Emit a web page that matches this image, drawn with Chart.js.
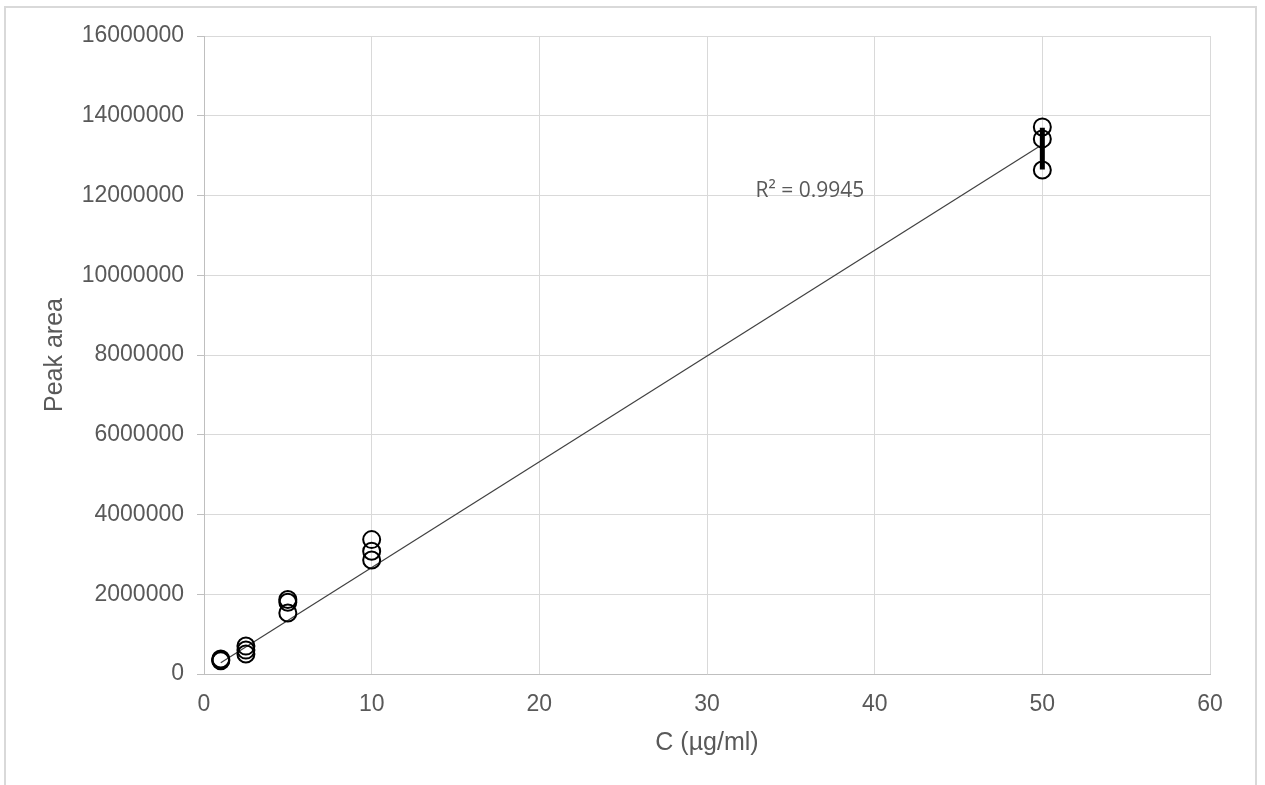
<!DOCTYPE html>
<html>
<head>
<meta charset="utf-8">
<script src="https://cdn.jsdelivr.net/npm/chart.js@4.4.1/dist/chart.umd.min.js"></script>
<style>
html,body{margin:0;padding:0;background:#fff;}
#wrap{position:absolute;left:0;top:0;width:1265px;height:785px;}
</style>
</head>
<body>
<div id="wrap"><canvas id="c" width="1265" height="785"></canvas></div>
<script>
// Data
const concentration = [1, 1, 1, 2.5, 2.5, 2.5, 5, 5, 5, 10, 10, 10, 50, 50, 50];
const peakArea = [330000, 350000, 375000, 700000, 600000, 500000, 1870000, 1800000, 1530000, 3370000, 3080000, 2860000, 13720000, 13420000, 12640000];
const trendX = [1, 50];
const trendY = [280000, 13280000];
const errorX = [50, 50];
const errorY = [13700000, 12650000];
const xTicks = [0, 10, 20, 30, 40, 50, 60];
const yTicks = [0, 2000000, 4000000, 6000000, 8000000, 10000000, 12000000, 14000000, 16000000];
const r2Label = 'R² = 0.9945';
const r2Pos = {x: 32.9, y: 12100000};

const toXY = (xs, ys) => xs.map((x, i) => ({x: x, y: ys[i]}));

const framePlugin = {
  id: 'frame',
  beforeDraw(chart) {
    const ctx = chart.ctx;
    ctx.save();
    ctx.fillStyle = '#fff';
    ctx.fillRect(0, 0, chart.width, chart.height);
    ctx.strokeStyle = '#d9d9d9';
    ctx.lineWidth = 2;
    ctx.strokeRect(5, 7, 1251, 800);
    ctx.restore();
  }
};
const labelPlugin = {
  id: 'r2',
  afterDatasetsDraw(chart) {
    const ctx = chart.ctx;
    const xs = chart.scales.x, ys = chart.scales.y;
    ctx.save();
    ctx.font = '21px "Open Sans"';
    ctx.fillStyle = '#595959';
    ctx.textAlign = 'left';
    ctx.textBaseline = 'middle';
    ctx.fillText(r2Label, xs.getPixelForValue(r2Pos.x), ys.getPixelForValue(r2Pos.y));
    ctx.restore();
  }
};

const tickFont = {family: '"Liberation Sans", Arial', size: 23};
const titleFont = {family: '"Liberation Sans", Arial', size: 25};

new Chart(document.getElementById('c'), {
  type: 'scatter',
  data: {
    datasets: [
      {
        label: 'error',
        data: toXY(errorX, errorY),
        showLine: true,
        borderColor: '#000',
        borderWidth: 5,
        pointRadius: 0,
        order: 0
      },
      {
        label: 'Peak area',
        data: toXY(concentration, peakArea),
        pointStyle: 'circle',
        pointRadius: 8.5,
        pointBorderWidth: 2,
        pointBorderColor: '#000',
        pointBackgroundColor: 'rgba(0,0,0,0)',
        order: 1
      },
      {
        label: 'trend',
        data: toXY(trendX, trendY),
        showLine: true,
        borderColor: '#404040',
        borderWidth: 1.2,
        pointRadius: 0,
        order: 2
      }
    ]
  },
  options: {
    responsive: false,
    animation: false,
    layout: {padding: {left: 40, right: 55, top: 36, bottom: 27}},
    plugins: {legend: {display: false}, tooltip: {enabled: false}},
    scales: {
      x: {
        type: 'linear',
        min: 0, max: 60,
        afterBuildTicks(s) { s.ticks = xTicks.map(v => ({value: v})); },
        afterFit(s) { s.height = 84; },
        grid: {color: '#d9d9d9', lineWidth: 1, drawTicks: false},
        border: {color: '#bfbfbf', width: 1},
        ticks: {color: '#595959', font: tickFont, padding: 17, maxRotation: 0},
        title: {display: true, text: 'C (µg/ml)', color: '#595959', font: titleFont, padding: {top: 0, bottom: 0}}
      },
      y: {
        type: 'linear',
        min: 0, max: 16000000,
        afterBuildTicks(s) { s.ticks = yTicks.map(v => ({value: v})); },
        afterFit(s) { s.width = 204 - 40; },
        grid: {color: '#d9d9d9', lineWidth: 1, drawTicks: true, tickLength: 7, tickColor: '#bfbfbf'},
        border: {color: '#bfbfbf', width: 1},
        ticks: {color: '#595959', font: tickFont, padding: 13, callback: v => String(v)},
        title: {display: true, text: 'Peak area', color: '#595959', font: titleFont, padding: {top: 0, bottom: 0}}
      }
    }
  },
  plugins: [framePlugin, labelPlugin]
});
</script>
</body>
</html>
